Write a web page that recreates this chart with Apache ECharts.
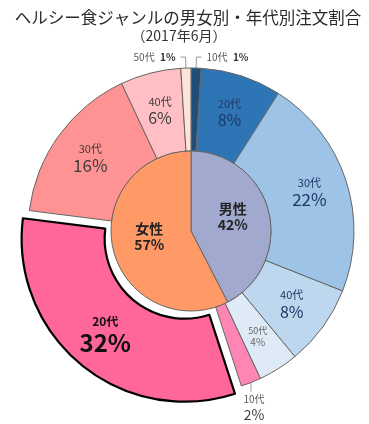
<!DOCTYPE html>
<html><head><meta charset="utf-8">
<script src="https://cdn.jsdelivr.net/npm/echarts@6/dist/echarts.min.js"></script>
<style>html,body{margin:0;padding:0;background:#fff}#c{width:369px;height:424px}</style>
</head><body><div id="c"></div>
<script>
const titleText = 'ヘルシー食ジャンルの男女別・年代別注文割合';
const subText = '（2017年6月）';
const ageGroups = ['10代', '20代', '30代', '40代', '50代'];
const maleShare = [1, 8, 22, 8, 4];
const femaleShare = [2, 32, 16, 6, 1];
const genders = ['男性', '女性'];
const genderShare = [42, 57];

const maleColors = ['#1F4E79', '#2E75B6', '#9DC3E6', '#BDD7EE', '#DEEBF7'];
const femaleColors = ['#FF85B5', '#FF6699', '#FF9393', '#FFBFC4', '#FCE4D6'];
const genderColors = ['#A1A9CE', '#FF9966'];
const FONT = '"Noto Sans CJK JP", "Noto Sans", sans-serif';

function rich(ageColor, pctColor, ageSize, pctSize, bold, pctBold) {
  return {
    a: { fontSize: ageSize, color: ageColor, fontFamily: FONT, lineHeight: ageSize + 4, fontWeight: bold ? 'bold' : 'normal' },
    p: { fontSize: pctSize, color: pctColor, fontFamily: FONT, fontWeight: (bold || pctBold) ? 'bold' : 'normal', lineHeight: pctSize + 2 }
  };
}
const smallLine = { show: true, length: 11, length2: 5, lineStyle: { color: '#9a9a9a', width: 1 } };

// label style per slice (male 10-50, then female 10-50); oneLine = age and % on one line
const outerLabelStyles = [
  { position: 'outside', oneLine: true, rich: rich('#595959', '#333', 10, 10, false, true) },
  { rich: rich('#1F3864', '#1F3864', 11, 16) },
  { rich: rich('#203864', '#203864', 11, 17) },
  { rich: rich('#203864', '#203864', 11, 16) },
  { rich: rich('#666', '#666', 9, 10) },
  { position: 'outside', rich: rich('#595959', '#404040', 10, 14) },
  { rich: rich('#111', '#111', 12, 24, true) },
  { rich: rich('#3c3c3c', '#3c3c3c', 11, 17) },
  { rich: rich('#3c3c3c', '#3c3c3c', 11, 16) },
  { position: 'outside', oneLine: true, rich: rich('#595959', '#333', 10, 10, false, true) }
];

const outerData = [];
genders.forEach((gender, gi) => {
  const shares = gi === 0 ? maleShare : femaleShare;
  const colors = gi === 0 ? maleColors : femaleColors;
  ageGroups.forEach((age, i) => {
    const idx = gi * 5 + i;
    const st = outerLabelStyles[idx];
    const item = {
      name: gender + age, value: shares[i],
      itemStyle: { color: colors[i] },
      label: { rich: st.rich }
    };
    if (st.position) {
      item.label.position = st.position;
      item.labelLine = smallLine;
    }
    if (gi === 1 && i === 1) {
      item.selected = true;
      item.itemStyle = { color: colors[i], borderColor: '#000', borderWidth: 2.2 };
      item.select = { itemStyle: { color: colors[i], borderColor: '#000', borderWidth: 2.2 } };
    }
    outerData.push(item);
  });
});

const innerData = genders.map((g, i) => ({ name: g, value: genderShare[i], itemStyle: { color: genderColors[i] } }));

const chart = echarts.init(document.getElementById('c'), null, { renderer: 'canvas' });
chart.setOption({
  animation: false,
  backgroundColor: '#fff',
  title: [
    {
      text: titleText, left: 183, top: 4, textAlign: 'center',
      textStyle: { fontSize: 16.5, fontWeight: 'normal', color: '#2a2a2a', fontFamily: FONT }
    },
    {
      text: subText, left: 174, top: 24, textAlign: 'center',
      textStyle: { fontSize: 14, fontWeight: 'normal', color: '#333', fontFamily: FONT }
    }
  ],
  series: [
    {
      type: 'pie', center: [191, 231], radius: [80, 163], startAngle: 90, clockwise: true,
      selectedMode: 'single', selectedOffset: 10, avoidLabelOverlap: false,
      emphasis: { disabled: true },
      itemStyle: { borderColor: '#666', borderWidth: 1 },
      label: {
        show: true, position: 'inside', fontFamily: FONT,
        formatter: function (p) {
          const age = ageGroups[p.dataIndex % 5];
          return outerLabelStyles[p.dataIndex].oneLine
            ? '{a|' + age + '}  {p|' + p.value + '%}'
            : '{a|' + age + '}\n{p|' + p.value + '%}';
        }
      },
      labelLine: { show: false },
      labelLayout: function (p) {
        if (p.dataIndex !== 5 || !p.labelLinePoints) return {};
        const p0 = p.labelLinePoints[0];
        const p1 = [p0[0], p0[1] + 9];
        return { x: p1[0] + 3, y: p1[1] + 1, align: 'center', verticalAlign: 'top', labelLinePoints: [p0, p1, p1] };
      },
      data: outerData
    },
    {
      type: 'pie', center: [191, 231], radius: [0, 80], startAngle: 90, clockwise: true,
      emphasis: { disabled: true }, selectedMode: false,
      itemStyle: { borderColor: '#666', borderWidth: 1 },
      label: {
        show: true, position: 'inside', formatter: '{b}\n{c}%', offset: [0, -4],
        fontSize: 14, fontWeight: 'bold', color: '#222', fontFamily: FONT, lineHeight: 16
      },
      labelLine: { show: false },
      data: innerData
    }
  ]
});
</script>
</body></html>
